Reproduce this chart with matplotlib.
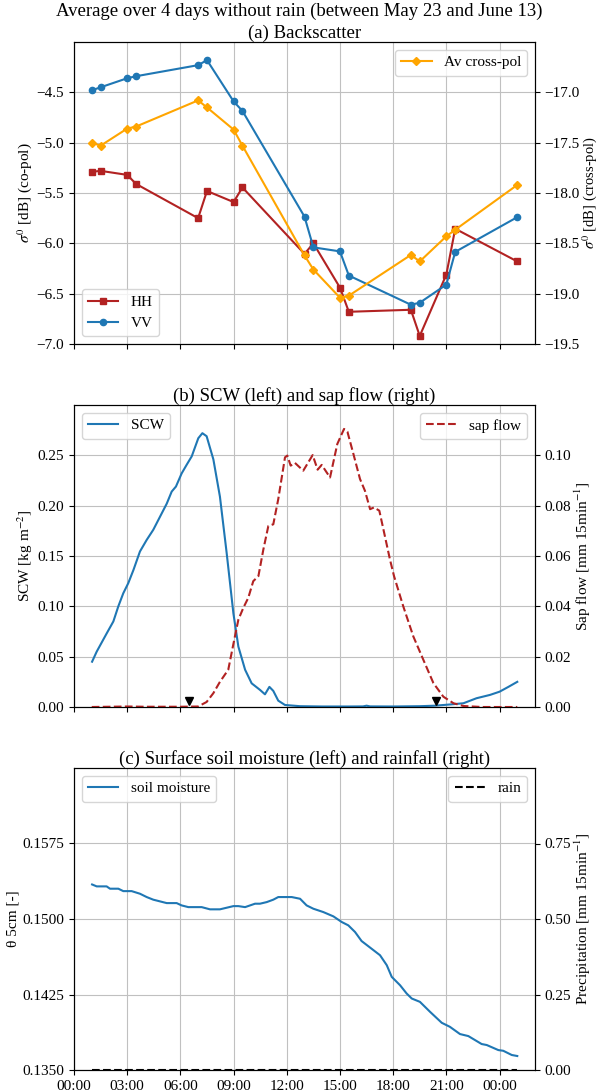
import numpy as np
import matplotlib
matplotlib.use("Agg")
import matplotlib.pyplot as plt
from matplotlib.ticker import FuncFormatter

plt.rcParams['font.family'] = ['Liberation Serif', 'DejaVu Serif']
plt.rcParams['mathtext.fontset'] = 'stix'
plt.rcParams['font.size'] = 11

# ---------------- data ----------------
# (a) backscatter acquisition times (hours since 00:00)
t_bs = [1.0, 1.5, 3.0, 3.5, 7.0, 7.5, 9.0, 9.5, 13.0, 13.5, 15.0, 15.5, 19.0, 19.5, 21.0, 21.5, 25.0]
hh = [-5.29, -5.28, -5.32, -5.41, -5.75, -5.48, -5.59, -5.445, -6.105, -6.00, -6.44, -6.68,
      -6.66, -6.92, -6.31, -5.855, -6.18]
vv = [-4.48, -4.45, -4.36, -4.34, -4.23, -4.18, -4.59, -4.685, -5.735, -6.04, -6.08, -6.32,
      -6.61, -6.59, -6.41, -6.085, -5.74]
cross = [-17.50, -17.53, -17.36, -17.34, -17.08, -17.15, -17.37, -17.53, -18.62, -18.76,
         -19.04, -19.02, -18.615, -18.68, -18.43, -18.365, -17.92]

# (b) SCW
t_scw = [1.02, 1.28, 1.84, 2.22, 2.5, 2.78, 3.06, 3.35, 3.72, 4.1, 4.47, 4.85, 5.23, 5.51, 5.75,
         6.07, 6.35, 6.64, 7.01, 7.24, 7.48, 7.86, 8.23, 8.61, 8.99, 9.27, 9.65, 10.02, 10.49,
         10.77, 11.02, 11.24, 11.52, 11.9, 12.75, 14.0, 15.5, 16.3, 16.5, 16.7, 18.0, 19.5,
         20.36, 21.2, 21.96, 22.7, 23.46, 24.0, 24.5, 25.0]
scw = [0.045, 0.055, 0.073, 0.085, 0.100, 0.113, 0.123, 0.136, 0.1545, 0.166, 0.176, 0.189,
       0.202, 0.214, 0.219, 0.232, 0.2405, 0.249, 0.267, 0.272, 0.269, 0.246, 0.209, 0.153,
       0.093, 0.060, 0.037, 0.0235, 0.017, 0.0126, 0.020, 0.016, 0.0063, 0.002, 0.0008,
       0.0005, 0.0005, 0.0006, 0.0013, 0.0006, 0.0005, 0.0008, 0.0013, 0.0025, 0.0037,
       0.0087, 0.012, 0.0152, 0.020, 0.025]

# (b) sap flow
t_sap = [1.0, 2.0, 3.0, 4.0, 5.0, 6.0, 7.0, 7.48, 7.86, 8.23, 8.7, 9.0, 9.27, 9.55, 9.83,
         10.11, 10.4, 10.68, 10.96, 11.24, 11.52, 11.9, 12.03, 12.22, 12.46, 12.93, 13.46,
         13.74, 13.97, 14.44, 14.85, 15.23, 15.42, 15.76, 16.13, 16.41, 16.7, 16.92, 17.22,
         17.45, 17.82, 18.05, 18.57, 19.14, 19.7, 20.27, 20.83, 21.4, 21.96, 23.0, 24.0, 25.0]
sap = [0.0, 0.0001, 0.0002, 0.0001, 0.0001, 0.0001, 0.0002, 0.002, 0.0055, 0.010, 0.0148,
       0.0254, 0.0347, 0.0394, 0.0434, 0.050, 0.052, 0.0626, 0.0719, 0.0726, 0.0826, 0.0992,
       0.0999, 0.0959, 0.0970, 0.0939, 0.1001, 0.0943, 0.0962, 0.0912, 0.1045, 0.1105,
       0.1094, 0.1005, 0.0906, 0.0859, 0.0786, 0.0793, 0.078, 0.0706, 0.0586, 0.052, 0.040,
       0.028, 0.0188, 0.0095, 0.0041, 0.0015, 0.0004, 0.0, 0.0, 0.0]

# sunrise / sunset markers
t_sun = [6.5, 20.4]

# (c) soil moisture
t_sm = [1.02, 1.28, 1.84, 2.03, 2.5, 2.78, 3.25, 3.72, 4.1, 4.47, 4.85, 5.23, 5.79, 6.07, 6.45,
        7.2, 7.67, 8.23, 8.61, 8.99, 9.27, 9.65, 10.21, 10.49, 10.87, 11.24, 11.52, 12.28,
        12.75, 13.12, 13.5, 14.06, 14.63, 15.1, 15.47, 15.85, 16.22, 16.7, 17.26, 17.64,
        17.92, 18.39, 18.76, 19.05, 19.51, 20.08, 20.74, 21.2, 21.77, 22.24, 22.99, 23.28,
        23.93, 24.21, 24.69, 25.0]
sm = [0.15343, 0.15324, 0.15324, 0.15301, 0.15301, 0.15277, 0.15277, 0.15251, 0.15218,
      0.15192, 0.15175, 0.15158, 0.15158, 0.15135, 0.15118, 0.15118, 0.15096, 0.15096,
      0.15112, 0.15128, 0.15128, 0.15118, 0.15152, 0.15152, 0.15168, 0.15192, 0.15218,
      0.15218, 0.15201, 0.15135, 0.15102, 0.15069, 0.15026, 0.1497, 0.14937, 0.14871,
      0.14781, 0.14716, 0.1464, 0.14541, 0.14425, 0.14342, 0.1426, 0.1421, 0.14177,
      0.14078, 0.13969, 0.13929, 0.13857, 0.13837, 0.13758, 0.13748, 0.13698, 0.13691,
      0.13649, 0.13639]

# (c) rain
t_rain = [1.0, 25.0]
rain = [0.0, 0.0]

xticks = [0, 3, 6, 9, 12, 15, 18, 21, 24]

# ---------------- figure ----------------
fig = plt.figure(figsize=(5.98, 10.92), dpi=100)
L, W, H = 74 / 598, 461 / 598, 302 / 1092
ax1 = fig.add_axes([L, 1 - 344 / 1092, W, H])
ax2 = fig.add_axes([L, 1 - 707 / 1092, W, H], sharex=ax1)
ax3 = fig.add_axes([L, 1 - 1070 / 1092, W, H], sharex=ax1)

blue = '#1f77b4'
red = '#b22222'
orange = 'orange'
TFS = 13.5

hfmt = FuncFormatter(lambda v, p: f"{int(round(v)) % 24:02d}:00")
neg1 = FuncFormatter(lambda v, p: f"{v:.1f}".replace('-', '\u2212'))

# (a)
ax1.plot(t_bs, hh, '-s', color=red, ms=4.5, lw=1.5, label='HH')
ax1.plot(t_bs, vv, '-o', color=blue, ms=4.5, lw=1.5, label='VV')
ax1.set_ylim(-7.0, -4.0)
ax1.set_yticks([-7.0, -6.5, -6.0, -5.5, -5.0, -4.5])
ax1.yaxis.set_major_formatter(neg1)
ax1.set_ylabel(r'$\sigma^0$ [dB] (co-pol)', labelpad=2)
ax1.grid(True, color='#c0c0c0')
ax1.legend(loc='lower left')
ax1.set_title('(a) Backscatter', fontsize=TFS, pad=3)
ax1b = ax1.twinx()
ax1b.plot(t_bs, cross, '-D', color=orange, ms=4.5, lw=1.5, label='Av cross-pol')
ax1b.set_ylim(-19.5, -16.5)
ax1b.set_yticks([-19.5, -19.0, -18.5, -18.0, -17.5, -17.0])
ax1b.yaxis.set_major_formatter(neg1)
ax1b.set_ylabel(r'$\sigma^0$ [dB] (cross-pol)', labelpad=0, fontsize=10.5)
ax1b.legend(loc='upper right')
fig.suptitle('Average over 4 days without rain (between May 23 and June 13)', fontsize=TFS,
             y=1 - 3 / 1092, va='top')

# (b)
ax2.plot(t_scw, scw, '-', color=blue, lw=1.5, label='SCW')
ax2.plot(t_sun, [0.0055, 0.0055], 'v', color='black', ms=6)
ax2.set_ylim(0, 0.30)
ax2.set_yticks([0.0, 0.05, 0.10, 0.15, 0.20, 0.25])
ax2.yaxis.set_major_formatter(FuncFormatter(lambda v, p: f"{v:.2f}"))
ax2.set_ylabel(r'SCW [kg m$^{-2}$]', labelpad=2)
ax2.grid(True, color='#c0c0c0')
ax2.legend(loc='upper left')
ax2.set_title('(b) SCW (left) and sap flow (right)', fontsize=TFS, pad=3)
ax2b = ax2.twinx()
ax2b.plot(t_sap, sap, '--', color=red, lw=1.5, label='sap flow')
ax2b.set_ylim(0, 0.12)
ax2b.set_yticks([0.0, 0.02, 0.04, 0.06, 0.08, 0.10])
ax2b.yaxis.set_major_formatter(FuncFormatter(lambda v, p: f"{v:.2f}"))
ax2b.set_ylabel(r'Sap flow [mm 15min$^{-1}$]', labelpad=1)
ax2b.legend(loc='upper right')

# (c)
ax3.plot(t_sm, sm, '-', color=blue, lw=1.5, label='soil moisture')
ax3.set_ylim(0.135, 0.165)
ax3.set_yticks([0.135, 0.1425, 0.15, 0.1575])
ax3.yaxis.set_major_formatter(FuncFormatter(lambda v, p: f"{v:.4f}"))
ax3.set_ylabel('\u03b8 5cm [-]', labelpad=2)
ax3.grid(True, color='#c0c0c0')
ax3.legend(loc='upper left')
ax3.set_title('(c) Surface soil moisture (left) and rainfall (right)', fontsize=TFS, pad=3)
ax3b = ax3.twinx()
ax3b.plot(t_rain, rain, '--', color='black', lw=1.5, label='rain')
ax3b.set_ylim(0, 1.0)
ax3b.set_yticks([0.0, 0.25, 0.5, 0.75])
ax3b.yaxis.set_major_formatter(FuncFormatter(lambda v, p: f"{v:.2f}"))
ax3b.set_ylabel(r'Precipitation [mm 15min$^{-1}$]', labelpad=1)
ax3b.legend(loc='upper right')

ax1.set_xlim(0, 26)
ax1.set_xticks(xticks)
ax3.xaxis.set_major_formatter(hfmt)
ax1.tick_params(labelbottom=False)
ax2.tick_params(labelbottom=False)

fig.savefig('out.png', dpi=100)
